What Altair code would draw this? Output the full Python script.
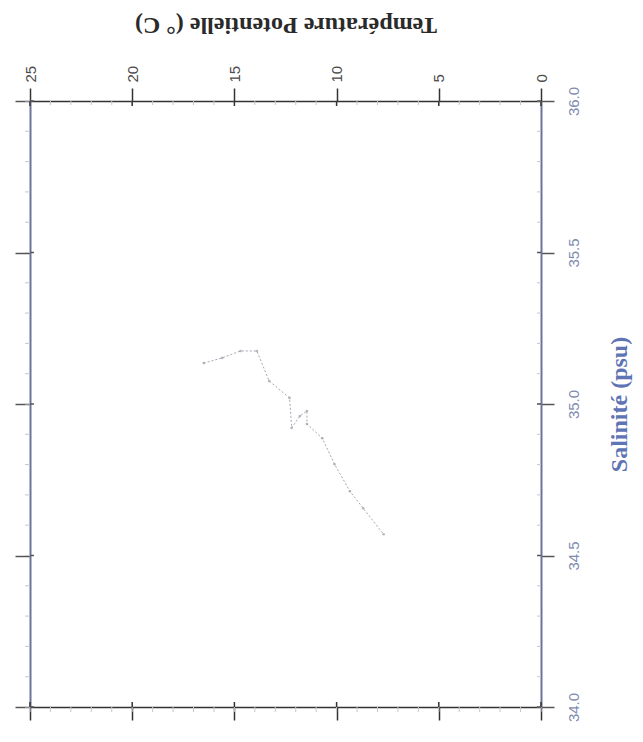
import altair as alt
import pandas as pd

# T-S profile, in drawing order
temp = [16.5, 15.6, 14.7, 13.9, 13.3, 12.3, 12.2, 11.8, 11.45, 11.45, 10.7, 10.1, 9.35, 8.7, 7.7]
sal = [35.135, 35.152, 35.175, 35.175, 35.076, 35.020, 34.921, 34.960, 34.977, 34.934, 34.887, 34.801, 34.712, 34.656, 34.570]
order = list(range(len(temp)))

temp_ticks = [0, 5, 10, 15, 20, 25]
sal_ticks = [34.0, 34.5, 35.0, 35.5, 36.0]
temp_minor = list(range(0, 26))
sal_minor = [round(34.0 + 0.1 * i, 1) for i in range(21)]

df = pd.DataFrame({"T": temp, "S": sal, "o": order})
tmin = pd.DataFrame({"T": temp_minor})
smin = pd.DataFrame({"S": sal_minor})
tmaj = pd.DataFrame({"T": temp_ticks})
smaj = pd.DataFrame({"S": sal_ticks})

W, H = 511, 606
xscale = alt.Scale(domain=[0, 25], reverse=True, nice=False, zero=False)
yscale = alt.Scale(domain=[34, 36], nice=False, zero=False)

dark = "#333333"
blue = "#6b7599"
TS = 13

top_axis = alt.Axis(orient="top", values=temp_ticks, title="Température Potentielle (° C)",
                    labelAngle=270, labelAlign="left", labelBaseline="middle",
                    labelFont="Liberation Sans", labelFontSize=15, labelColor="#4a4a4a",
                    labelPadding=6, tickSize=TS, tickColor=dark, tickWidth=1.5,
                    domainColor=dark, domainWidth=1.5, grid=False,
                    titleAngle=180, titleBaseline="top", titlePadding=29,
                    titleFont="Liberation Serif", titleFontSize=24, titleFontWeight="bold",
                    titleColor="#2a2a2a", format="d")
right_axis = alt.Axis(orient="right", values=sal_ticks, title="Salinité (psu)",
                      labelAngle=270, labelAlign="center", labelBaseline="top",
                      labelFont="Liberation Sans", labelFontSize=15, labelColor="#7f8bb0",
                      labelPadding=12, tickSize=TS, tickColor="#555555", tickWidth=1.5,
                      domainColor=blue, domainWidth=2, grid=False, format=".1f",
                      titleAngle=270, titleBaseline="top", titlePadding=26,
                      titleFont="Liberation Serif", titleFontSize=24, titleFontWeight="bold",
                      titleColor="#5f74b4")
bottom_axis = alt.Axis(orient="bottom", values=temp_ticks, labels=False, title=None,
                       tickSize=TS, tickColor=dark, tickWidth=1.5,
                       domainColor=dark, domainWidth=1.5, grid=False)
left_axis = alt.Axis(orient="left", values=sal_ticks, labels=False, title=None,
                     tickSize=TS + 2, tickColor="#555555", tickWidth=1.5,
                     domainColor=blue, domainWidth=2, grid=False)

line = alt.Chart(df).mark_line(color="#a4a7b4", strokeWidth=1, strokeDash=[2, 2]).encode(
    x=alt.X("T:Q", scale=xscale, axis=top_axis),
    y=alt.Y("S:Q", scale=yscale, axis=right_axis),
    order="o:Q",
)
pts = alt.Chart(df).mark_circle(color="#8a8c98", size=7, opacity=0.6).encode(
    x=alt.X("T:Q", scale=xscale, axis=bottom_axis),
    y=alt.Y("S:Q", scale=yscale, axis=left_axis),
)

minor_col = "#c4c7d3"
top_minor = alt.Chart(tmin).mark_rule(color=minor_col, strokeWidth=1).encode(
    x=alt.X("T:Q", scale=xscale, axis=None), y=alt.value(0), y2=alt.value(4))
bot_minor = alt.Chart(tmin).mark_rule(color=minor_col, strokeWidth=1).encode(
    x=alt.X("T:Q", scale=xscale, axis=None), y=alt.value(H), y2=alt.value(H + 5))
left_minor = alt.Chart(smin).mark_rule(color=minor_col, strokeWidth=1).encode(
    y=alt.Y("S:Q", scale=yscale, axis=None), x=alt.value(-5), x2=alt.value(0))
right_minor = alt.Chart(smin).mark_rule(color=minor_col, strokeWidth=1).encode(
    y=alt.Y("S:Q", scale=yscale, axis=None), x=alt.value(W - 4), x2=alt.value(W))

# inward part of the major ticks
top_in = alt.Chart(tmaj).mark_rule(color=dark, strokeWidth=1.5).encode(
    x=alt.X("T:Q", scale=xscale, axis=None), y=alt.value(0), y2=alt.value(5))
bot_in = alt.Chart(tmaj).mark_rule(color=dark, strokeWidth=1.5).encode(
    x=alt.X("T:Q", scale=xscale, axis=None), y=alt.value(H - 5), y2=alt.value(H))
left_in = alt.Chart(smaj).mark_rule(color="#555555", strokeWidth=1.5).encode(
    y=alt.Y("S:Q", scale=yscale, axis=None), x=alt.value(0), x2=alt.value(4))
right_in = alt.Chart(smaj).mark_rule(color="#555555", strokeWidth=1.5).encode(
    y=alt.Y("S:Q", scale=yscale, axis=None), x=alt.value(W - 4), x2=alt.value(W))

chart = alt.layer(line, pts, top_minor, bot_minor, left_minor, right_minor,
                  top_in, bot_in, left_in, right_in).resolve_axis(
    x="independent", y="independent"
).properties(
    width=W, height=H,
    autosize=alt.AutoSizeParams(type="none"),
    padding={"left": 22, "top": 93, "right": 94, "bottom": 27},
    background="white",
).configure_view(stroke=None)

chart.save("out.html", embed_options={"renderer": "svg", "actions": False})
